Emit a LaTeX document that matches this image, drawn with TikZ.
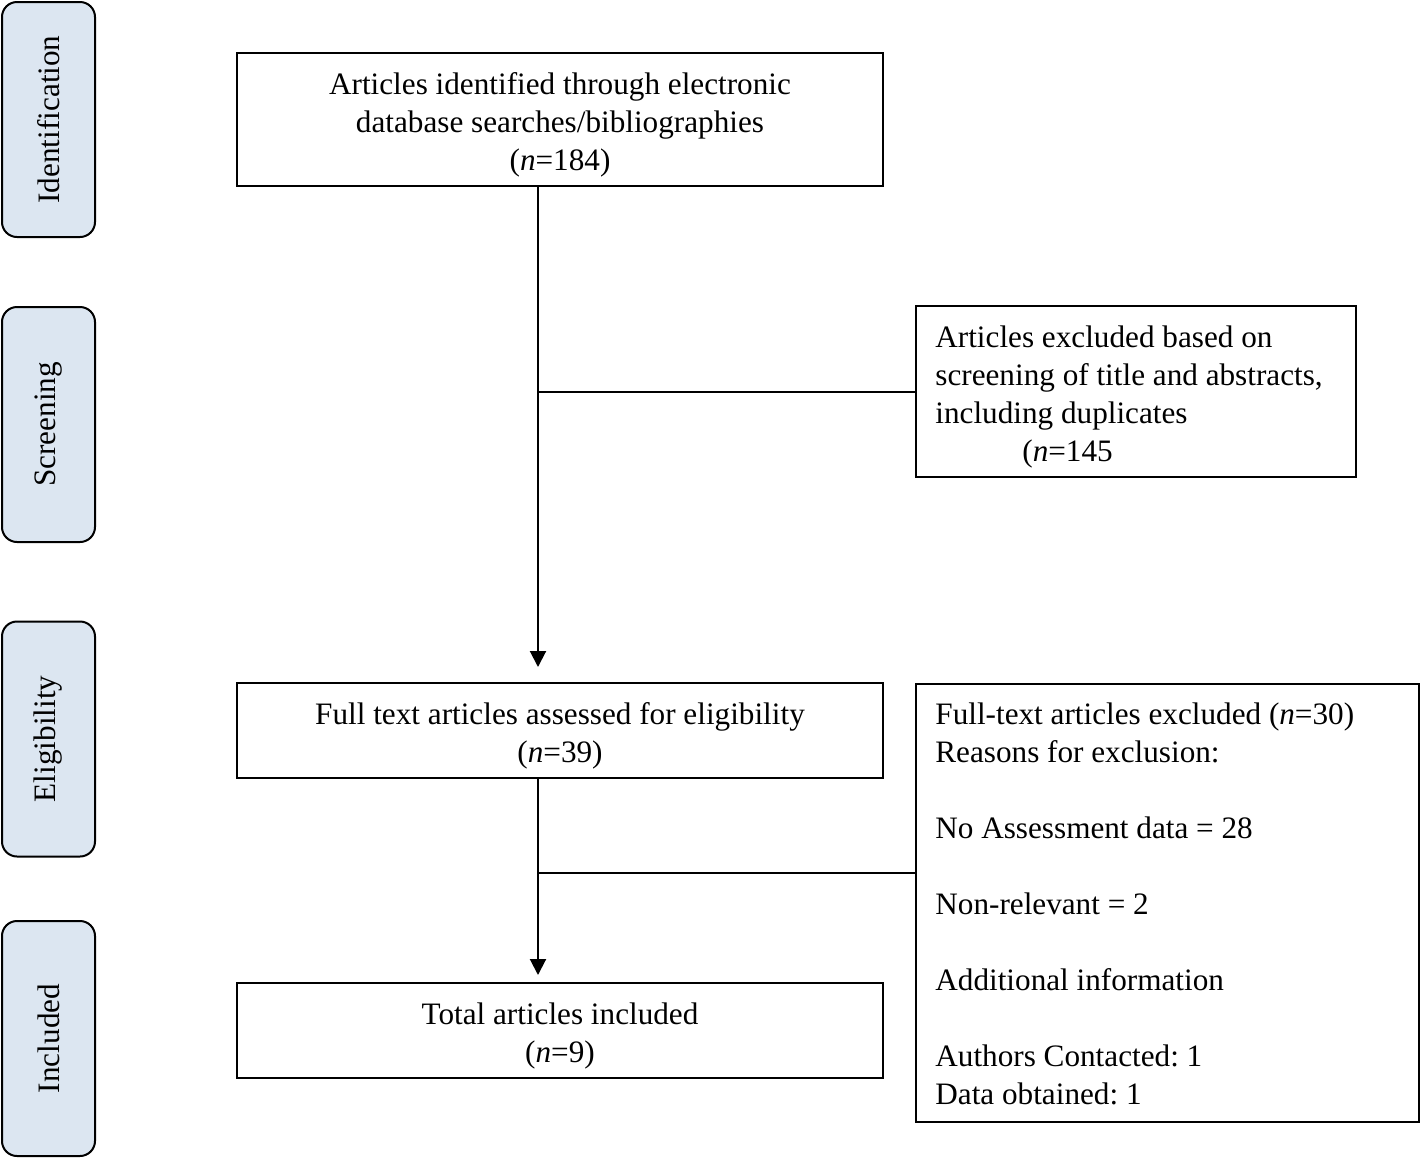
\documentclass[tikz,border=0pt]{standalone}
\usepackage{fontspec}
\setmainfont{Liberation Serif}
\usetikzlibrary{arrows.meta}
\definecolor{phasefill}{HTML}{DCE6F1}
\begin{document}
\begin{tikzpicture}[x=0.5pt,y=-0.5pt,
  every node/.style={font=\fontsize{15.6}{19}\selectfont},
  phase/.style={draw=black, line width=1pt, fill=phasefill, rounded corners=7.5pt, minimum width=46.5pt, minimum height=117.5pt, inner sep=0pt},
  boxframe/.style={draw=black, line width=1pt, inner sep=0pt},
  boxtext/.style={align=center, inner sep=0pt},
  sidetext/.style={align=left, inner xsep=9.5pt, inner ysep=0pt, anchor=west},
  conn/.style={line width=1pt},
  arr/.style={line width=1pt, -{Triangle[length=8pt,width=8pt]}}]
\frenchspacing
\useasboundingbox (0,0) rectangle (1420,1158);
% phase boxes
\node[phase] (p1) at (48.5,119.5) {};
\node[rotate=90] (p1t) at (p1) {Identification};
\node[phase] (p2) at (48.5,424.5) {};
\node[rotate=90] (p2t) at (p2) {Screening};
\node[phase] (p3) at (48.5,739) {};
\node[rotate=90] (p3t) at (p3) {Eligibility};
\node[phase] (p4) at (48.5,1038.5) {};
\node[rotate=90] (p4t) at (p4) {Included};
% main boxes
\node[boxframe, minimum width=323pt, minimum height=66.5pt] (b1) at (560,119.5) {};
\node[boxtext] (b1t) at (560,125) {Articles identified through electronic\\ database searches/bibliographies\\ (\textit{n}=184)};
\node[boxframe, minimum width=323pt, minimum height=47.5pt] (b2) at (560,730.5) {};
\node[boxtext] (b2t) at (560,736) {Full text articles assessed for eligibility\\ (\textit{n}=39)};
\node[boxframe, minimum width=323pt, minimum height=47.5pt] (b3) at (560,1030.5) {};
\node[boxtext] (b3t) at (560,1036) {Total articles included\\ (\textit{n}=9)};
% side boxes
\node[boxframe, minimum width=220pt, minimum height=85.5pt] (s1) at (1136,391.5) {};
\node[sidetext] (s1t) at (916,396.5) {Articles excluded based on\\ screening of title and abstracts,\\ including duplicates\\ \hspace*{43.5pt}(\textit{n}=145};
\node[boxframe, minimum width=251.5pt, minimum height=219pt] (s2) at (1167.5,903) {};
\node[sidetext] (s2t) at (916,904) {Full-text articles excluded (\textit{n}=30)\\ Reasons for exclusion:\\[19pt] No Assessment data = 28\\[19pt] Non-relevant = 2\\[19pt] Additional information\\[19pt] Authors Contacted: 1\\ Data obtained: 1};
% connectors
\coordinate (vx) at (538,0);
\coordinate (j2) at (538,873);
\draw[arr, shorten >=7.5pt] (b1.south -| vx) -- (b2.north -| vx);
\draw[conn] (vx |- s1.west) -- (s1.west);
\draw[arr, shorten >=3.5pt] (b2.south -| vx) -- (b3.north -| vx);
\draw[conn] (j2) -- (j2 -| s2.west);
\end{tikzpicture}
\end{document}
